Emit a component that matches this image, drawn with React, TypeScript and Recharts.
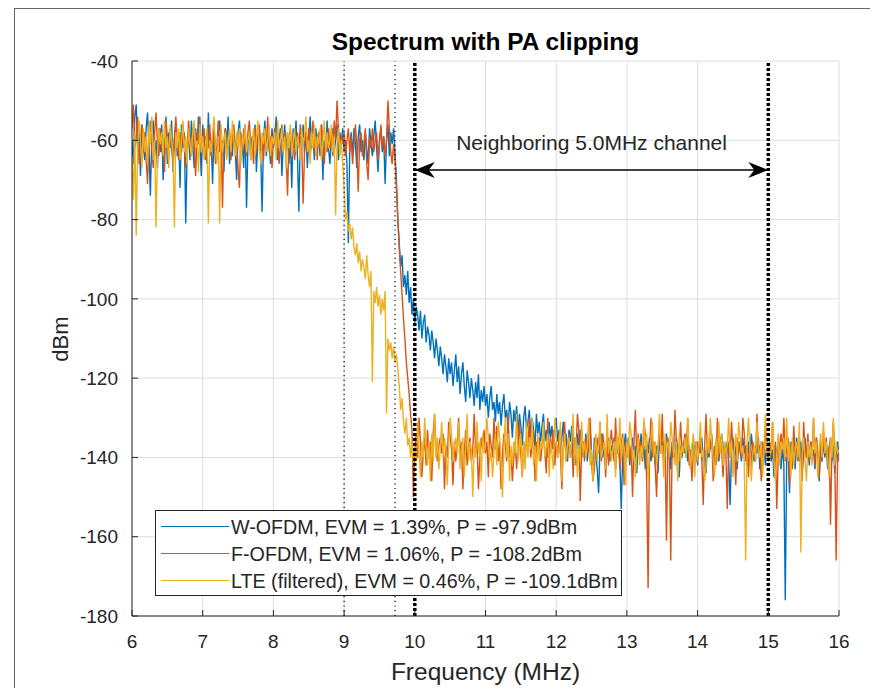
import React from 'react';
import {
  LineChart,
  Line,
  XAxis,
  YAxis,
  CartesianGrid,
  ReferenceLine,
  ReferenceDot,
} from 'recharts';

// Frequency grid of the spectrum estimate (MHz): 6.00, 6.02, ... 16.00
const FREQ_START_MHZ = 6;
const FREQ_STEP_MHZ = 0.02;

// Power per frequency bin (dBm), one value per grid point, ten bins per row
const W_OFDM = [
  -60, -66, -54, -51, -63, -58, -69, -56, -61, -65,
  -57, -53, -62, -74, -59, -55, -64, -60, -67, -57,
  -63, -56, -70, -61, -54, -66, -58, -62, -55, -68,
  -60, -57, -64, -59, -72, -56, -62, -58, -81, -63,
  -58, -65, -55, -61, -67, -57, -63, -54, -60, -69,
  -56, -62, -59, -66, -53, -64, -60, -71, -57, -62,
  -65, -58, -55, -63, -60, -68, -57, -61, -54, -66,
  -59, -64, -57, -62, -70, -58, -55, -63, -60, -67,
  -56, -77, -61, -58, -65, -59, -62, -56, -68, -60,
  -57, -63, -78, -60, -55, -64, -58, -61, -66, -57,
  -62, -59, -54, -65, -60, -57, -69, -61, -56, -63,
  -58, -66, -60, -72, -57, -62, -55, -64, -78, -59,
  -61, -56, -63, -58, -67, -60, -54, -62, -59, -65,
  -57, -61, -58, -64, -56, -70, -60, -63, -55, -62,
  -66, -59, -57, -63, -60, -56, -65, -58, -61, -57,
  -63, -60, -66, -86, -62, -58, -64, -57, -61, -67,
  -59, -56, -63, -60, -65, -58, -62, -66, -57, -61,
  -64, -59, -55, -62, -68, -60, -57, -63, -59, -71,
  -60, -56, -64, -58, -61, -57, -63, -70, -80, -86,
  -92, -89, -97, -94, -99, -93, -101, -97, -104, -100,
  -106, -102, -104, -108, -103, -110, -106, -104, -111, -107,
  -109, -113, -108, -111, -115, -110, -113, -117, -112, -115,
  -119, -114, -117, -121, -115, -119, -116, -122, -118, -114,
  -121, -117, -124, -119, -116, -122, -126, -118, -121, -125,
  -120, -123, -127, -121, -125, -119, -128, -123, -126, -122,
  -127, -124, -130, -125, -122, -128, -126, -131, -124, -129,
  -126, -132, -127, -124, -130, -128, -133, -126, -129, -135,
  -128, -131, -127, -134, -129, -132, -137, -130, -127, -133,
  -131, -128, -135, -130, -133, -138, -129, -134, -131, -136,
  -132, -129, -136, -133, -140, -131, -135, -132, -138, -134,
  -130, -136, -133, -139, -135, -131, -137, -134, -141, -133,
  -136, -132, -139, -135, -142, -134, -137, -133, -140, -136,
  -138, -134, -141, -136, -133, -139, -146, -135, -138, -143,
  -149, -137, -134, -140, -136, -142, -138, -135, -141, -137,
  -139, -135, -143, -138, -136, -141, -153, -140, -137, -134,
  -140, -136, -142, -138, -135, -141, -137, -144, -136, -139,
  -134, -140, -137, -143, -136, -139, -135, -141, -138, -136,
  -142, -137, -144, -135, -139, -136, -141, -138, -134, -140,
  -137, -143, -136, -139, -141, -135, -138, -145, -137, -140,
  -136, -139, -134, -141, -137, -143, -138, -135, -140, -136,
  -142, -137, -139, -135, -141, -138, -144, -136, -140, -137,
  -135, -139, -142, -136, -138, -141, -137, -134, -140, -136,
  -139, -136, -141, -152, -138, -135, -140, -137, -143, -136,
  -138, -141, -135, -139, -137, -142, -136, -140, -134, -138,
  -141, -137, -139, -135, -143, -136, -140, -138, -142, -135,
  -139, -136, -141, -138, -145, -137, -140, -135, -139, -143,
  -137, -142, -176, -141, -138, -149, -136, -140, -137, -143,
  -135, -139, -141, -136, -144, -138, -135, -140, -137, -142,
  -136, -140, -138, -143, -135, -139, -146, -137, -141, -136,
  -140, -137, -143, -138, -135, -141, -137, -144, -139, -136,
  -140,
];

const F_OFDM = [
  -57, -51, -62, -59, -54, -66, -60, -56, -63, -58,
  -65, -71, -59, -55, -62, -67, -58, -53, -61, -64,
  -57, -63, -60, -68, -55, -59, -64, -57, -62, -66,
  -59, -54, -61, -65, -58, -63, -56, -60, -67, -62,
  -55, -60, -64, -57, -62, -69, -58, -61, -54, -63,
  -60, -57, -65, -59, -62, -56, -64, -61, -58, -66,
  -62, -55, -63, -59, -77, -60, -57, -64, -61, -58,
  -65, -59, -56, -62, -60, -67, -72, -58, -63, -57,
  -61, -64, -58, -55, -62, -60, -66, -57, -63, -59,
  -56, -62, -60, -65, -58, -61, -54, -63, -59, -67,
  -60, -57, -63, -59, -66, -61, -56, -62, -58, -64,
  -74, -60, -57, -63, -59, -65, -61, -58, -62, -56,
  -60, -76, -63, -58, -61, -57, -64, -60, -55, -62,
  -59, -65, -58, -62, -56, -61, -66, -59, -63, -57,
  -62, -58, -64, -55, -60, -50, -57, -63, -59, -61,
  -58, -64, -60, -57, -63, -59, -66, -61, -56, -62,
  -73, -60, -58, -64, -61, -57, -66, -70, -59, -62,
  -57, -63, -60, -58, -65, -61, -56, -62, -59, -64,
  -60, -50, -57, -63, -66, -61, -65, -72, -80, -87,
  -93, -99, -105, -110, -116, -120, -124, -129, -133, -150,
  -138, -134, -140, -130, -136, -145, -139, -135, -142, -133,
  -140, -136, -146, -134, -129, -138, -141, -137, -135, -139,
  -134, -148, -137, -140, -131, -135, -138, -147, -136, -141,
  -137, -130, -140, -136, -148, -139, -133, -142, -137, -135,
  -141, -138, -129, -139, -136, -148, -140, -135, -138, -133,
  -139, -136, -145, -134, -137, -140, -130, -138, -132, -141,
  -136, -148, -139, -134, -137, -141, -129, -140, -138, -146,
  -140, -136, -143, -137, -131, -139, -145, -136, -141, -135,
  -138, -130, -140, -137, -133, -146, -136, -139, -135, -141,
  -137, -134, -139, -144, -130, -140, -135, -138, -133, -142,
  -136, -140, -134, -139, -148, -137, -131, -141, -138, -134,
  -140, -136, -145, -135, -139, -129, -133, -151, -138, -136,
  -141, -135, -139, -137, -130, -140, -146, -143, -138, -135,
  -139, -131, -141, -134, -138, -145, -135, -142, -137, -133,
  -138, -141, -130, -139, -135, -143, -137, -134, -147, -136,
  -139, -135, -141, -137, -150, -136, -128, -140, -134, -138,
  -136, -141, -131, -134, -146, -173, -138, -130, -140, -136,
  -142, -150, -137, -134, -139, -129, -141, -138, -161, -135,
  -139, -166, -137, -140, -128, -136, -145, -138, -131, -139,
  -137, -134, -140, -130, -142, -138, -146, -139, -137, -141,
  -136, -139, -135, -141, -152, -137, -129, -140, -136, -138,
  -134, -146, -137, -142, -130, -140, -135, -138, -145, -137,
  -139, -153, -136, -140, -131, -138, -137, -147, -135, -139,
  -136, -140, -130, -134, -141, -137, -145, -135, -142, -136,
  -138, -141, -129, -139, -137, -146, -136, -140, -132, -138,
  -141, -137, -139, -131, -142, -136, -153, -140, -137, -134,
  -139, -130, -141, -138, -135, -147, -137, -143, -132, -139,
  -137, -141, -135, -139, -146, -131, -138, -140, -134, -141,
  -136, -139, -130, -142, -135, -140, -145, -136, -141, -133,
  -139, -135, -141, -137, -157, -138, -131, -140, -166, -139,
  -141,
];

const LTE_FILTERED = [
  -64, -75, -58, -84, -62, -55, -60, -67, -57, -63,
  -59, -66, -56, -61, -54, -65, -60, -82, -63, -57,
  -61, -58, -64, -55, -62, -59, -67, -56, -60, -63,
  -82, -58, -62, -57, -65, -60, -55, -63, -59, -66,
  -57, -61, -64, -58, -55, -62, -60, -68, -56, -63,
  -59, -65, -61, -57, -81, -60, -63, -58, -54, -62,
  -66, -59, -81, -56, -63, -60, -58, -65, -61, -57,
  -63, -55, -60, -64, -58, -62, -57, -66, -59, -61,
  -56, -63, -60, -58, -65, -61, -57, -64, -59, -55,
  -62, -66, -58, -61, -57, -63, -60, -56, -64, -59,
  -61, -58, -65, -55, -62, -60, -57, -63, -59, -67,
  -58, -62, -56, -64, -60, -57, -63, -59, -61, -65,
  -57, -61, -59, -54, -63, -60, -66, -58, -62, -56,
  -64, -59, -61, -57, -65, -60, -55, -63, -58, -62,
  -60, -56, -63, -59, -79, -61, -57, -64, -60, -66,
  -72, -80, -78, -83, -81, -85, -82, -87, -89, -86,
  -91, -88, -93, -90, -92, -95, -89, -94, -97, -93,
  -121, -98, -101, -97, -102, -99, -104, -100, -103, -98,
  -129, -110, -113, -111, -115, -112, -116, -114, -118, -122,
  -128, -125, -131, -134, -130, -137, -135, -140, -136, -142,
  -137, -141, -131, -139, -145, -136, -140, -130, -138, -142,
  -136, -146, -134, -141, -129, -140, -135, -143, -138, -131,
  -140, -135, -138, -147, -136, -130, -134, -141, -137, -135,
  -139, -131, -143, -138, -135, -145, -137, -129, -141, -136,
  -138, -150, -137, -140, -131, -139, -136, -146, -134, -139,
  -137, -130, -135, -141, -138, -145, -139, -134, -142, -131,
  -135, -141, -150, -138, -130, -140, -134, -146, -137, -142,
  -136, -139, -129, -141, -138, -134, -145, -136, -143, -131,
  -140, -135, -138, -130, -142, -137, -146, -134, -141, -136,
  -138, -131, -140, -137, -134, -145, -136, -139, -143, -130,
  -135, -140, -138, -131, -146, -139, -134, -141, -137, -135,
  -140, -136, -129, -142, -135, -145, -137, -141, -131, -139,
  -136, -140, -137, -130, -142, -138, -146, -139, -134, -141,
  -137, -131, -140, -138, -136, -143, -129, -139, -135, -141,
  -138, -136, -145, -134, -139, -130, -141, -135, -138, -147,
  -136, -140, -131, -134, -141, -138, -145, -139, -135, -142,
  -137, -140, -130, -138, -134, -146, -139, -135, -131, -140,
  -136, -142, -138, -129, -139, -137, -145, -134, -138, -136,
  -140, -131, -135, -139, -142, -136, -146, -134, -141, -137,
  -139, -135, -140, -130, -138, -143, -137, -134, -145, -136,
  -141, -137, -131, -140, -138, -146, -142, -134, -139, -130,
  -136, -140, -145, -135, -141, -131, -139, -134, -142, -136,
  -139, -137, -130, -140, -136, -145, -138, -134, -141, -131,
  -135, -139, -137, -141, -166, -136, -130, -138, -146, -139,
  -137, -141, -131, -138, -140, -136, -145, -137, -129, -139,
  -136, -140, -138, -131, -141, -146, -139, -134, -142, -136,
  -138, -135, -140, -130, -141, -136, -145, -135, -142, -138,
  -136, -140, -131, -164, -139, -135, -141, -146, -136, -140,
  -137, -142, -130, -139, -136, -145, -138, -134, -140, -131,
  -139, -136, -141, -145, -135, -140, -130, -142, -136, -139,
  -138,
];

const X_TICKS = [6, 7, 8, 9, 10, 11, 12, 13, 14, 15, 16];
const Y_TICKS = [-180, -160, -140, -120, -100, -80, -60, -40];

// Occupied-band edges (thin dotted) and neighbouring channel edges (heavy dotted)
const BAND_EDGES_MHZ = [9, 9.72];
const CHANNEL_EDGES_MHZ = [10, 15];
const ARROW_LEVEL_DBM = -67.5;
const ANNOTATION_X = 12.5;
const ANNOTATION_Y = -60.5;
const ANNOTATION_TEXT = 'Neighboring 5.0MHz channel';

const SERIES = [
  { key: 'w', name: 'W-OFDM, EVM = 1.39%, P = -97.9dBm', color: '#0072BD' },
  { key: 'fo', name: 'F-OFDM, EVM = 1.06%, P = -108.2dBm', color: '#D95319' },
  { key: 'lte', name: 'LTE (filtered), EVM = 0.46%, P = -109.1dBm', color: '#EDB120' },
];

const rows = W_OFDM.map((_, i) => ({
  f: +(FREQ_START_MHZ + i * FREQ_STEP_MHZ).toFixed(2),
  w: W_OFDM[i],
  fo: F_OFDM[i],
  lte: LTE_FILTERED[i],
}));

const FONT = '"Liberation Sans", Arial, Helvetica, sans-serif';
const TEXT_COLOR = '#262626';

const DoubleArrow = (props: any) => {
  const { x1, y1, x2, y2 } = props;
  const len = 20;
  const half = 8;
  const notch = 14;
  return (
    <g>
      <line x1={x1} y1={y1} x2={x2} y2={y2} stroke="#000" strokeWidth={1.6} />
      <path
        d={`M${x1},${y1} L${x1 + len},${y1 - half} L${x1 + notch},${y1} L${x1 + len},${y1 + half} Z`}
        fill="#000"
      />
      <path
        d={`M${x2},${y2} L${x2 - len},${y2 - half} L${x2 - notch},${y2} L${x2 - len},${y2 + half} Z`}
        fill="#000"
      />
    </g>
  );
};

export default function App() {
  return (
    <div
      style={{
        position: 'relative',
        width: 870,
        height: 680,
        fontFamily: FONT,
        background: '#fff',
      }}
    >
      {/* figure frame */}
      <div
        style={{
          position: 'absolute',
          left: 6,
          top: 0,
          right: 0,
          bottom: 0,
          borderLeft: '1.5px solid #666',
          borderTop: '1.5px solid #666',
        }}
      />
      <LineChart
        width={870}
        height={680}
        data={rows}
        margin={{ top: 53, right: 39, bottom: 32, left: 64 }}
      >
        <CartesianGrid stroke="#dedede" strokeWidth={1} />
        <XAxis
          dataKey="f"
          type="number"
          domain={[6, 16]}
          ticks={X_TICKS}
          allowDataOverflow
          height={40}
          tickSize={-6}
          tickMargin={25}
          stroke={TEXT_COLOR}
          tick={{ fill: TEXT_COLOR, fontSize: 19, fontFamily: FONT }}
        />
        <YAxis
          type="number"
          domain={[-180, -40]}
          ticks={Y_TICKS}
          allowDataOverflow
          width={60}
          tickSize={-6}
          tickMargin={20}
          stroke={TEXT_COLOR}
          tick={{ fill: TEXT_COLOR, fontSize: 19, fontFamily: FONT }}
        />
        {SERIES.map((s) => (
          <Line
            key={s.key}
            dataKey={s.key}
            name={s.name}
            type="linear"
            stroke={s.color}
            strokeWidth={1.4}
            dot={false}
            activeDot={false}
            isAnimationActive={false}
          />
        ))}
        {BAND_EDGES_MHZ.map((x) => (
          <ReferenceLine
            key={`band-${x}`}
            x={x}
            stroke="#000"
            strokeWidth={1.2}
            strokeDasharray="1.2 3.5"
          />
        ))}
        {CHANNEL_EDGES_MHZ.map((x) => (
          <ReferenceLine
            key={`chan-${x}`}
            x={x}
            stroke="#000"
            strokeWidth={3.5}
            strokeDasharray="3 2"
          />
        ))}
        <ReferenceLine
          segment={[
            { x: CHANNEL_EDGES_MHZ[0], y: ARROW_LEVEL_DBM },
            { x: CHANNEL_EDGES_MHZ[1], y: ARROW_LEVEL_DBM },
          ]}
          shape={DoubleArrow}
        />
        <ReferenceDot
          x={ANNOTATION_X}
          y={ANNOTATION_Y}
          r={0}
          fill="none"
          stroke="none"
          label={{
            value: ANNOTATION_TEXT,
            position: 'center',
            fill: TEXT_COLOR,
            fontSize: 21,
            fontFamily: FONT,
          }}
        />
      </LineChart>

      {/* title */}
      <div
        style={{
          position: 'absolute',
          left: 124,
          width: 707,
          top: 20,
          textAlign: 'center',
          fontWeight: 'bold',
          fontSize: 24.5,
          lineHeight: '28px',
          color: '#000',
        }}
      >
        Spectrum with PA clipping
      </div>

      {/* x axis label */}
      <div
        style={{
          position: 'absolute',
          left: 124,
          width: 707,
          top: 650,
          textAlign: 'center',
          fontSize: 24.5,
          lineHeight: '28px',
          color: TEXT_COLOR,
        }}
      >
        Frequency (MHz)
      </div>

      {/* y axis label */}
      <div
        style={{
          position: 'absolute',
          left: 53,
          top: 331,
          transform: 'translate(-50%, -50%) rotate(-90deg)',
          fontSize: 22,
          lineHeight: '26px',
          whiteSpace: 'nowrap',
          color: TEXT_COLOR,
        }}
      >
        dBm
      </div>

      {/* legend */}
      <div
        style={{
          position: 'absolute',
          left: 147,
          top: 502,
          width: 467,
          height: 86,
          boxSizing: 'border-box',
          border: `1px solid ${TEXT_COLOR}`,
          background: '#fff',
        }}
      >
        {SERIES.map((s, i) => (
          <div
            key={s.key}
            style={{
              position: 'absolute',
              left: 0,
              top: 3 + i * 27,
              height: 26,
              width: '100%',
            }}
          >
            <div
              style={{
                position: 'absolute',
                left: 5,
                top: 12,
                width: 68,
                height: 0,
                borderTop: `1.5px solid ${s.color}`,
              }}
            />
            <div
              style={{
                position: 'absolute',
                left: 75,
                top: 0,
                fontSize: 19.7,
                lineHeight: '26px',
                whiteSpace: 'nowrap',
                color: TEXT_COLOR,
              }}
            >
              {s.name}
            </div>
          </div>
        ))}
      </div>
    </div>
  );
}
